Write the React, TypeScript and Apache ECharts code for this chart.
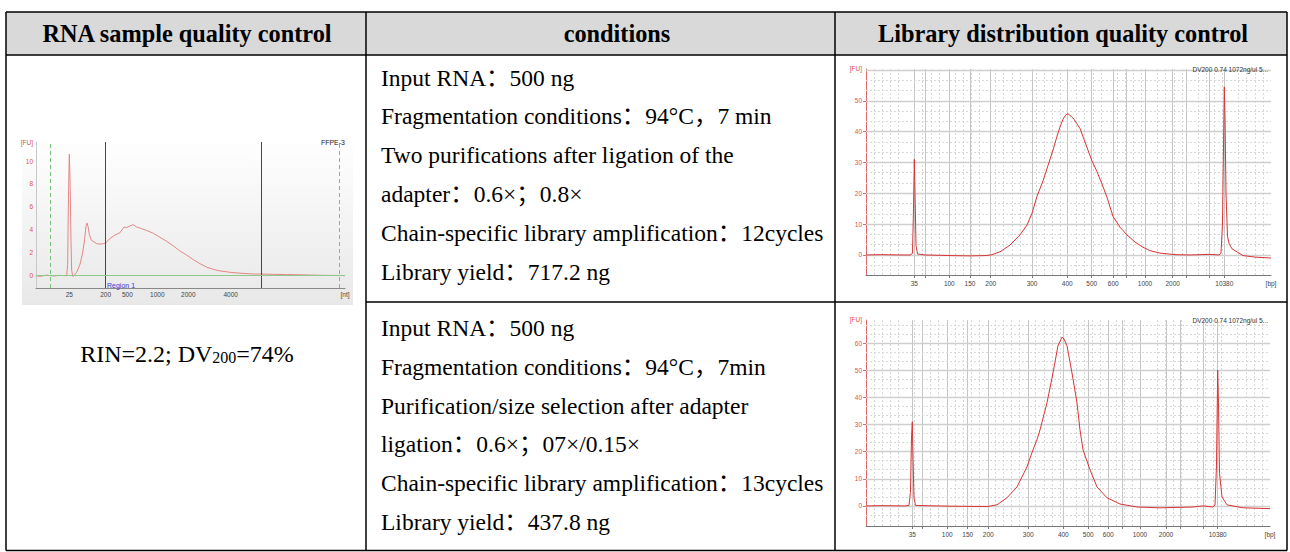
import React, { useEffect, useRef } from "react";
import * as echarts from "echarts";

// ---------- Table texts ----------
const HEADER_TITLES = ["RNA sample quality control", "conditions", "Library distribution quality control"];
const CONDITIONS_1 = [
  "Input RNA：500 ng",
  "Fragmentation conditions：94°C，7 min",
  "Two purifications after ligation of the",
  "adapter：0.6×；0.8×",
  "Chain-specific library amplification：12cycles",
  "Library yield：717.2 ng",
];
const CONDITIONS_2 = [
  "Input RNA：500 ng",
  "Fragmentation conditions：94°C，7min",
  "Purification/size selection after adapter",
  "ligation：0.6×；07×/0.15×",
  "Chain-specific library amplification：13cycles",
  "Library yield：437.8 ng",
];
const RIN_VALUE = "2.2";
const DV200_VALUE = "74%";

// ---------- RNA electropherogram (migration position 0-100, FU) ----------
const rnaPos = [0,1.29,3.45,5.61,7.77,9.92,10.25,10.46,10.68,10.79,10.95,11.11,11.33,11.54,11.87,12.30,13.16,14.24,15.10,15.75,16.18,16.50,16.83,17.26,17.91,18.77,19.63,20.71,21.79,22.55,23.73,25.57,27.18,28.48,29.34,30.42,31.50,32.58,34.20,35.81,37.97,40.13,42.29,44.44,46.60,48.76,50.92,53.07,55.23,57.39,59.55,62.78,66.02,70.33,72.92,76.81,81.12,85.44,89.75,94.07,98.38,100];
const rnaFU = [0,-0.05,0.05,-0.02,0.03,0,1.0,6,9.5,10.6,9.0,7,3,0.5,-0.05,0,0.3,1.0,2.0,3.2,4.3,4.6,4.3,3.6,3.1,2.95,2.8,2.75,2.8,2.85,3.2,3.55,3.75,4.25,4.2,4.35,4.45,4.25,4.1,3.95,3.7,3.35,3.0,2.6,2.15,1.8,1.4,1.05,0.75,0.55,0.42,0.3,0.22,0.15,0.15,0.12,0.1,0.08,0.05,0.03,0.02,0];
const rnaLabelPos = [10.79, 22.55, 29.56, 39.27, 49.30, 63.0, 100];
const rnaLabels = ["25", "200", "500", "1000", "2000", "4000", "[nt]"];
const rnaYLabels = [0, 2, 4, 6, 8, 10];
const rnaMarkerLines = [4.53, 98.17];
const rnaRegionLines = [22.55, 72.92];

// ---------- Library electropherograms ----------
const ladderSizes = [35, 50, 100, 150, 200, 300, 400, 500, 600, 700, 1000, 2000, 3000, 7000, 10380];
const labeledSizes = [35, 100, 150, 200, 300, 400, 500, 600, 1000, 2000, 10380];
const lib1Ladder = [11.93,14.57,20.57,25.68,30.79,41.0,49.7,55.73,61.06,64.36,68.89,75.73,79.01,84.77,88.47];
const lib2Ladder = [11.46,13.94,20.12,25.17,30.27,40.17,48.84,55.02,59.97,63.44,67.82,74.26,77.89,83.49,87.05];
const libYLabels1 = [0, 10, 20, 30, 40, 50];
const libYLabels2 = [0, 10, 20, 30, 40, 50, 60];
const libYMajor = [0, 10, 20, 30, 40, 50, 60];
const libYMinor1 = [-3.33,3.33,6.67,13.33,16.67,23.33,26.67,33.33,36.67,43.33,46.67,53.33,56.67];
const libYMinor2 = [-3.33,3.33,6.67,13.33,16.67,23.33,26.67,33.33,36.67,43.33,46.67,53.33,56.67,63.33,66.67];
const libTitle = "DV200 0.74 1072ng/ul 5...";

const lib1Pos = [0,3.46,8.40,10.86,11.48,11.73,11.93,12.10,12.35,12.72,14.57,20.74,25.68,29.38,30.86,33.09,35.56,38.02,39.75,40.99,42.22,43.70,44.94,46.17,47.16,47.90,48.64,49.38,49.88,50.62,51.36,52.10,52.84,53.83,54.81,55.80,57.04,58.27,59.51,60.99,62.72,64.44,66.42,68.40,70.12,72.59,76.30,80.00,82.47,84.94,87.16,87.65,88.02,88.27,88.47,88.64,88.89,89.26,89.63,90.37,91.36,93.09,96.05,100];
const lib1FU = [0,0.1,0,0,0.5,15,31,20,3,0.3,0,-0.2,-0.3,-0.2,0,1.0,3.2,6.5,9.7,13.5,19,24,29,34,38.5,41.5,44,45.5,45.8,45,44,42.5,41,37.5,34,30.5,27,23,18.7,12.5,9,6.5,4.2,2.5,1.4,0.6,0.1,0,0.1,0.2,0,0.5,10,35,54.5,45,20,6,3.8,2,1.2,-0.2,-0.7,-1.0];

const lib2Pos = [0,3.47,9.65,10.64,11.01,11.26,11.46,11.63,11.88,12.25,14.60,20.79,26.98,30.20,32.43,34.90,37.38,39.85,41.34,42.33,43.07,44.80,46.29,47.52,48.51,49.01,49.75,50.99,52.23,52.97,53.71,55.45,57.18,59.65,62.87,67.08,72.77,80.94,83.42,85.89,86.39,86.76,87.05,87.25,87.50,88.12,89.36,93.32,100];
const lib2FU = [0,0.1,0,0.2,5,25,31,18,3,0.2,0.1,-0.1,-0.2,-0.2,0.4,3,7,14.4,20.7,24.4,28,38,49,59,62.2,61.5,59,49,38,28,20.7,13.3,7,3,0.7,-0.4,-0.7,-0.4,0,-0.4,0.3,15,50,38,12,3.3,0.4,-0.7,-1.0];

// ---------- helpers ----------
const SERIF = '"Liberation Serif", "Times New Roman", "Noto Sans CJK SC", serif';
const SANS = '"Liberation Sans", Arial, sans-serif';
const zip = (xs: number[], ys: number[]) => xs.map((x, i) => [x, ys[i]]);
const labelFor = (pos: number[], labels: string[]) => (v: number) => {
  let best = -1, d = Infinity;
  pos.forEach((p, i) => { const dd = Math.abs(p - v); if (dd < d) { d = dd; best = i; } });
  return d < 0.01 ? labels[best] : "";
};

function libAxes(gridIndex: number, ladder: number[], yMin: number, yMax: number, yLabels: number[]) {
  const labPos = labeledSizes.map((s) => ladder[ladderSizes.indexOf(s)]).concat([100]);
  const labTxt = labeledSizes.map(String).concat(["[bp]"]);
  const x = {
    type: "value", gridIndex, min: 0, max: 100, interval: 10,
    axisLine: { show: true, onZero: false, lineStyle: { color: "#777", width: 1 } },
    axisTick: { show: true, customValues: ladder, length: 3, lineStyle: { color: "#777" } },
    axisLabel: { show: true, customValues: labPos, formatter: labelFor(labPos, labTxt), color: "#444", fontSize: 6.5, fontFamily: SANS, margin: 5 },
    splitLine: { show: false },
    minorTick: { show: false, splitNumber: 5 },
    minorSplitLine: { show: true, lineStyle: { color: "#d8d8d8", type: [2, 2], width: 1 } },
  };
  const y = {
    type: "value", gridIndex, min: yMin, max: yMax,
    axisLine: { show: true, onZero: false, lineStyle: { color: "#e06a6a", width: 1 } },
    axisTick: { show: true, customValues: yLabels, length: 3, lineStyle: { color: "#e06a6a" } },
    axisLabel: { show: true, customValues: yLabels, color: "#e05050", fontSize: 6.5, fontFamily: SANS, margin: 4 },
    splitLine: { show: false },
  };
  return { x, y };
}

function libSeries(idx: number, pos: number[], fu: number[], ladder: number[], yMajor: number[], yMinor: number[]) {
  const grid = [
    ...ladder.map((v) => ({ xAxis: v, lineStyle: { color: "#c6c6c6", type: "solid", width: 1 } })),
    ...yMajor.map((v) => ({ yAxis: v, lineStyle: { color: "#cfcfcf", type: "solid", width: 1.3 } })),
    ...yMinor.map((v) => ({ yAxis: v, lineStyle: { color: "#d8d8d8", type: [2, 2], width: 1 } })),
  ];
  return [
    {
      type: "line", xAxisIndex: idx, yAxisIndex: idx, data: zip(pos, fu), showSymbol: false, silent: true,
      lineStyle: { opacity: 0 }, z: 1,
      markLine: { silent: true, z: 1, symbol: ["none", "none"], label: { show: false }, animation: false, data: grid },
    },
    {
      type: "line", xAxisIndex: idx, yAxisIndex: idx, data: zip(pos, fu), showSymbol: false, silent: true, z: 4,
      lineStyle: { color: "#d83434", width: 1 },
    },
  ];
}

export default function App() {
  const ref = useRef<HTMLDivElement>(null);
  useEffect(() => {
    const chart = echarts.init(ref.current!, null, { renderer: "svg" });

    const lib1 = libAxes(1, lib1Ladder, -6.5, 60.3, libYLabels1);
    const lib2 = libAxes(2, lib2Ladder, -7.4, 68.5, libYLabels2);

    const BL = 6, BR = 1287, BT = 12, HB = 55, RD = 302, BB = 550.5, C1 = 366, C2 = 835;
    const line = (x1: number, y1: number, x2: number, y2: number) => ({
      type: "line", z: 10, shape: { x1, y1, x2, y2 }, style: { stroke: "#000", lineWidth: 1.5 },
    });
    const txt = (text: string, x: number, y: number, font: string, fill: string, align = "left") => ({
      type: "text", z: 10, style: { text, x, y, font, fill, align, verticalAlign: "middle", textAlign: align, textVerticalAlign: "middle" },
    });

    const headerX = [187, 617, 1063];
    const rowStep = 38.8;
    const graphics: any[] = [
      { type: "rect", z: 0, shape: { x: BL, y: BT, width: BR - BL, height: HB - BT }, style: { fill: "#d9d9d9" } },
      {
        type: "rect", z: 0, shape: { x: 22, y: 137, width: 331, height: 168 },
        style: { fill: { type: "linear", x: 0, y: 0, x2: 0, y2: 1, colorStops: [{ offset: 0, color: "#ffffff" }, { offset: 1, color: "#e8e8e8" }] } },
      },
      line(BL, BT, BR, BT), line(BL, HB, BR, HB), line(C1, RD, BR, RD), line(BL, BB, BR, BB),
      line(BL, BT, BL, BB), line(C1, BT, C1, BB), line(C2, BT, C2, BB), line(BR, BT, BR, BB),
      ...HEADER_TITLES.map((t, i) => txt(t, headerX[i], 33.5, `bold 24.3px ${SERIF}`, "#000", "center")),
      ...CONDITIONS_1.map((t, i) => txt(t, 381, 77.5 + i * rowStep, `23.5px ${SERIF}`, "#000")),
      ...CONDITIONS_2.map((t, i) => txt(t, 381, 328 + i * rowStep, `23.5px ${SERIF}`, "#000")),
      {
        type: "text", z: 10,
        style: {
          text: `{a|RIN=${RIN_VALUE}; DV}{s|200}{a|=${DV200_VALUE}}`, x: 187, y: 352, align: "center", verticalAlign: "middle",
          textAlign: "center", textVerticalAlign: "middle",
          rich: {
            a: { fontSize: 24, fontFamily: SERIF, fill: "#000", color: "#000", lineHeight: 27, verticalAlign: "bottom" },
            s: { fontSize: 16, fontFamily: SERIF, fill: "#000", color: "#000", lineHeight: 17, verticalAlign: "bottom" },
          },
        },
      },
      txt("[FU]", 33, 142, `6.5px ${SANS}`, "#e05050", "right"),
      txt("FFPE-3", 345, 142, `7px ${SANS}`, "#222", "right"),
      txt("Region 1", 107, 285, `7px ${SANS}`, "#3a3ad0", "left"),
      txt("[FU]", 862, 68, `6.5px ${SANS}`, "#e05050", "right"),
      txt("[FU]", 862, 319, `6.5px ${SANS}`, "#e05050", "right"),
      txt(libTitle, 1268, 69, `6.5px ${SANS}`, "#333", "right"),
      txt(libTitle, 1268, 320, `6.5px ${SANS}`, "#333", "right"),
    ];

    const option: any = {
      animation: false,
      backgroundColor: "#ffffff",
      textStyle: { fontFamily: SANS },
      grid: [
        { left: 36, top: 142, width: 309, height: 146, containLabel: false, outerBoundsMode: "none" },
        { left: 866, top: 69, width: 405, height: 206, containLabel: false, outerBoundsMode: "none" },
        { left: 866, top: 320, width: 404, height: 206, containLabel: false, outerBoundsMode: "none" },
      ],
      xAxis: [
        {
          type: "value", gridIndex: 0, min: 0, max: 100, interval: 10,
          axisLine: { show: true, onZero: false, lineStyle: { color: "#888", width: 1 } },
          axisTick: { show: false },
          axisLabel: { show: true, customValues: rnaLabelPos, formatter: labelFor(rnaLabelPos, rnaLabels), color: "#444", fontSize: 6.5, fontFamily: SANS, margin: 3 },
          splitLine: { show: false },
        },
        lib1.x, lib2.x,
      ],
      yAxis: [
        {
          type: "value", gridIndex: 0, min: -1.07, max: 11.66,
          axisLine: { show: true, onZero: false, lineStyle: { color: "#c8c8c8", width: 1 } },
          axisTick: { show: false },
          axisLabel: { show: true, customValues: rnaYLabels, color: "#e05050", fontSize: 6.5, fontFamily: SANS, margin: 3 },
          splitLine: { show: false },
        },
        lib1.y, lib2.y,
      ],
      series: [
        {
          type: "line", xAxisIndex: 0, yAxisIndex: 0, data: zip(rnaPos, rnaFU), showSymbol: false, silent: true, z: 3,
          lineStyle: { color: "#e38686", width: 1 },
          markLine: {
            silent: true, symbol: ["none", "none"], label: { show: false }, animation: false,
            data: [
              ...rnaMarkerLines.map((v) => ({ xAxis: v, lineStyle: { color: "#74c474", type: [4, 3], width: 1 } })),
              ...rnaRegionLines.map((v) => ({ xAxis: v, lineStyle: { color: "#3535cc", type: "solid", width: 1 } })),
              { yAxis: 0, lineStyle: { color: "#8cc88c", type: "solid", width: 1 } },
            ],
          },
        },
        ...libSeries(1, lib1Pos, lib1FU, lib1Ladder, libYMajor, libYMinor1),
        ...libSeries(2, lib2Pos, lib2FU, lib2Ladder, libYMajor, libYMinor2),
      ],
      graphic: graphics,
    };
    chart.setOption(option);
    return () => chart.dispose();
  }, []);
  return <div ref={ref} style={{ position: "absolute", left: 0, top: 0, width: 1290, height: 552, background: "#fff" }} />;
}
